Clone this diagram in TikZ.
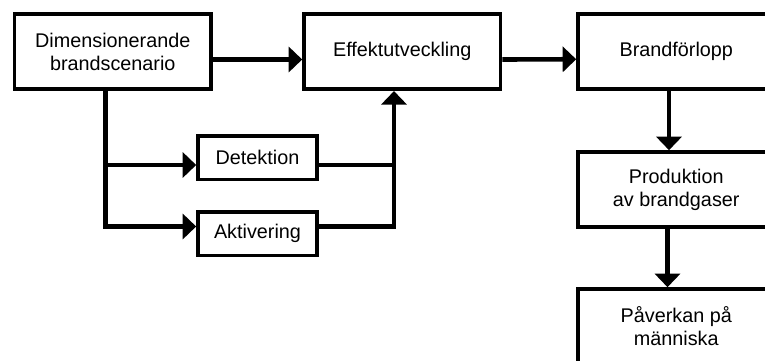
\documentclass[tikz,border=0pt]{standalone}
\usepackage{fontspec}
\setmainfont{Liberation Sans}
\usetikzlibrary{arrows.meta}

\begin{document}
\begin{tikzpicture}[x=1pt, y=-1pt]

\tikzset{box/.style = {draw, line width=3.6pt, minimum width=196.5pt, minimum height=75pt, align=center, inner sep=2pt, font=\fontsize{19.8}{23}\selectfont}}
\tikzset{smallbox/.style = {box, minimum width=119pt, minimum height=43.5pt}}
\tikzset{line/.style = {line width=4.6pt}}
\tikzset{edge/.style = {line, -{Triangle[length=13.5pt, width=25pt]}}}
\useasboundingbox (0,0) rectangle (765,361);
\clip (0,0) rectangle (765,361);
%boxes
\node[box] (dim) at (112.75,51.75) {Dimensionerande\\brandscenario};
\node[box] (eff) at (402.25,51.75) {Effektutveckling};
\node[box] (brand) at (676.25,51.5) {Brandförlopp};
\node[box] (prod) at (676.25,189.5) {Produktion\\av brandgaser};
\node[box] (pav) at (676.25,326.5) {Påverkan på\\människa};
\node[smallbox] (det) at (257.5,157.75) {Detektion};
\node[smallbox] (akt) at (257.5,233.75) {Aktivering};
%points
\coordinate (dimout) at ([xshift=-7.25pt]dim.south);
\coordinate (detin) at ([yshift=-7.25pt]det.west);
\coordinate (aktin) at ([yshift=7.25pt]akt.west);
\coordinate (detout) at ([yshift=-7.25pt]det.east);
\coordinate (aktout) at ([yshift=7.25pt]akt.east);
\coordinate (effin) at ([xshift=-8.25pt]eff.south);
%edges
\draw [edge, line cap=round] ([yshift=-7.75pt]dim.east) -- ([yshift=-7.75pt]eff.west);
\draw [edge] ([yshift=-7.75pt]eff.east) -- ([yshift=-7.75pt]brand.west);
\draw [edge] (dimout) |- (detin);
\draw [edge] (dimout) |- (aktin);
\draw [line] (detout) -- (detout -| effin);
\draw [edge] (aktout) -| (effin);
\draw [edge] ([xshift=-7.25pt]brand.south) -- ([xshift=-7.25pt]prod.north);
\draw [edge] ([xshift=-8.75pt]prod.south) -- ([xshift=-8.75pt]pav.north);

\end{tikzpicture}
\end{document}
